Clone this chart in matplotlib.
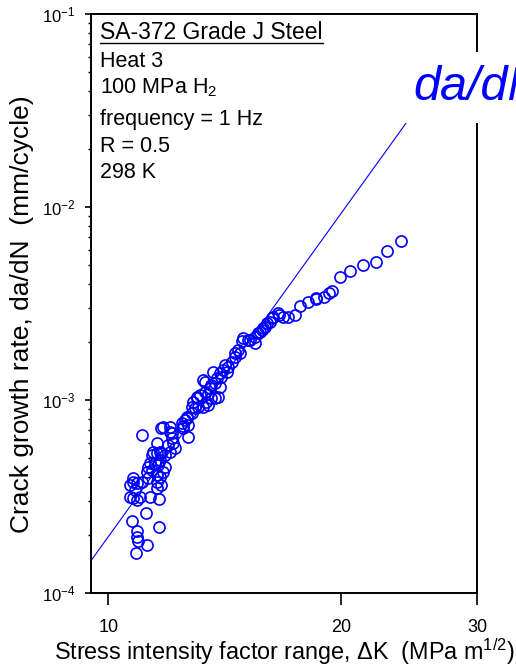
import matplotlib
matplotlib.use('Agg')
import matplotlib.pyplot as plt
from matplotlib.ticker import FixedLocator, FixedFormatter, NullLocator, LogLocator, NullFormatter
from matplotlib.lines import Line2D

plt.rcParams['font.family'] = ['Liberation Sans', 'DejaVu Sans']
plt.rcParams['mathtext.fontset'] = 'custom'
plt.rcParams['mathtext.rm'] = 'Liberation Sans'
plt.rcParams['mathtext.it'] = 'Liberation Sans:italic'
plt.rcParams['mathtext.bf'] = 'Liberation Sans:bold'
plt.rcParams['mathtext.default'] = 'regular'
plt.rcParams['axes.unicode_minus'] = False

# ---- data ----
delta_k = [23.92, 22.92, 22.18, 21.33, 20.54, 19.96, 19.47, 19.01, 18.55, 18.14,
           17.70, 17.45, 17.10, 16.84, 16.59, 16.35, 16.19, 15.95, 15.71, 15.48,
           15.48, 15.17, 14.95, 14.88, 14.80, 14.73, 14.58, 14.58, 14.44, 14.29,
           14.15, 14.08, 13.94, 14.01, 13.67, 13.81, 13.74, 13.94, 13.60, 13.33,
           13.27, 13.54, 13.47, 13.87, 13.74, 13.60, 13.33, 13.14, 13.01, 12.88,
           13.40, 13.47, 13.27, 13.07, 12.95, 12.82, 12.82, 12.63, 12.57, 12.44,
           12.69, 12.50, 12.50, 12.69, 12.02, 11.78, 11.72, 12.02, 12.08, 12.08,
           12.14, 11.96, 12.20, 12.02, 11.84, 11.72, 11.66, 11.55, 11.55, 11.43,
           11.38, 11.05, 11.66, 11.49, 11.32, 11.60, 11.84, 11.38, 11.27, 11.21,
           11.78, 11.55, 11.66, 11.55, 11.72, 11.55, 11.27, 11.05, 10.77, 10.88,
           10.77, 10.67, 10.83, 10.67, 10.77, 10.88, 10.99, 11.32, 11.63, 11.18,
           10.72, 11.63, 10.91, 10.88, 10.93, 11.21, 10.86, 16.27, 16.03, 15.79,
           14.23, 13.01, 12.63, 15.87, 15.63, 15.25, 16.64, 19.32, 18.57]
dadn = [6.69e-3, 5.92e-3, 5.17e-3, 5.01e-3, 4.68e-3, 4.32e-3, 3.68e-3, 3.40e-3, 3.34e-3, 3.23e-3,
        3.07e-3, 2.76e-3, 2.68e-3, 2.70e-3, 2.81e-3, 2.70e-3, 2.55e-3, 2.40e-3, 2.26e-3, 2.13e-3,
        1.97e-3, 2.05e-3, 2.09e-3, 2.01e-3, 1.75e-3, 1.82e-3, 1.68e-3, 1.75e-3, 1.58e-3, 1.49e-3,
        1.52e-3, 1.43e-3, 1.38e-3, 1.32e-3, 1.40e-3, 1.30e-3, 1.22e-3, 1.17e-3, 1.20e-3, 1.24e-3,
        1.27e-3, 1.15e-3, 1.08e-3, 1.04e-3, 1.02e-3, 1.02e-3, 1.10e-3, 1.06e-3, 1.02e-3, 9.80e-4,
        9.80e-4, 9.42e-4, 9.23e-4, 9.23e-4, 9.06e-4, 9.23e-4, 8.53e-4, 8.19e-4, 7.88e-4, 7.57e-4,
        7.42e-4, 7.30e-4, 7.13e-4, 6.45e-4, 7.27e-4, 7.27e-4, 7.13e-4, 6.85e-4, 6.72e-4, 6.33e-4,
        5.96e-4, 5.85e-4, 5.62e-4, 5.40e-4, 5.19e-4, 5.29e-4, 5.40e-4, 5.29e-4, 5.96e-4, 5.40e-4,
        5.19e-4, 6.58e-4, 4.89e-4, 4.70e-4, 4.70e-4, 4.60e-4, 4.51e-4, 4.34e-4, 4.51e-4, 4.25e-4,
        4.25e-4, 4.09e-4, 4.00e-4, 3.77e-4, 3.63e-4, 3.49e-4, 3.93e-4, 3.77e-4, 3.77e-4, 3.70e-4,
        3.93e-4, 3.63e-4, 3.42e-4, 3.15e-4, 3.11e-4, 3.03e-4, 3.15e-4, 3.15e-4, 3.06e-4, 2.61e-4,
        2.37e-4, 2.19e-4, 2.10e-4, 1.96e-4, 1.86e-4, 1.77e-4, 1.61e-4, 2.65e-3, 2.50e-3, 2.31e-3,
        1.40e-3, 1.04e-3, 8.04e-4, 2.35e-3, 2.22e-3, 2.05e-3, 2.76e-3, 3.57e-3, 3.39e-3]

fit_dk = [9.5, 24.35]
fit_dadn = [1.47e-4, 2.76e-2]

x_ticks = [10, 20, 30]
x_tick_labels = ['10', '20', '30']

title_line = 'SA-372 Grade J Steel'
info_lines = ['Heat 3', '100 MPa H$_2$', 'frequency = 1 Hz', 'R = 0.5', '298 K']
info_baselines_px = [66.7, 93.3, 125.3, 151.7, 177.7]

W, H = 516, 668
fig = plt.figure(figsize=(W / 100, H / 100), dpi=100)
ax = fig.add_axes([91 / W, 1 - 593 / H, 386 / W, 579 / H])
ax.set_xscale('log')
ax.set_yscale('log')

ax.plot(fit_dk, fit_dadn, color='blue', lw=0.8, zorder=2)
ax.plot(delta_k, dadn, linestyle='none', marker='o', mfc='none', mec='blue',
        ms=8, mew=1.2, zorder=3)

ax.set_xlim(9.5, 30)
ax.set_ylim(1e-4, 1e-1)

ax.xaxis.set_major_locator(FixedLocator(x_ticks))
ax.xaxis.set_major_formatter(FixedFormatter(x_tick_labels))
ax.xaxis.set_minor_locator(NullLocator())
ax.yaxis.set_major_locator(LogLocator(base=10, numticks=10))
ax.yaxis.set_minor_locator(LogLocator(base=10, subs=range(2, 10), numticks=10))
ax.yaxis.set_minor_formatter(NullFormatter())

ax.tick_params(axis='x', which='major', direction='out', length=8.5, width=1.2,
               pad=10, labelsize=13, top=False)
ax.tick_params(axis='y', which='major', direction='out', length=4.3, width=1.2,
               pad=7, labelsize=12, right=False)
ax.tick_params(axis='y', which='minor', direction='out', length=2.4, width=1.0, right=False)
for s in ax.spines.values():
    s.set_linewidth(1.4)

ax.set_xlabel('Stress intensity factor range, \u0394K  (MPa m$^{1/2}$)', fontsize=16.8)
ax.set_ylabel('Crack growth rate, da/dN  (mm/cycle)', fontsize=19)
ax.yaxis.set_label_coords((34 - 91) / 386, 0.5 - 11 / 579)
ax.xaxis.set_label_coords(0.5, -(660 - 593) / 579)
ax.xaxis.label.set_verticalalignment('baseline')

t_title = fig.text(100 / W, 1 - 39.3 / H, title_line, fontsize=16.5, va='baseline', ha='left')
for txt, b in zip(info_lines, info_baselines_px):
    fig.text(100 / W, 1 - b / H, txt, fontsize=15.5, va='baseline', ha='left')

fig.text(413 / W, 1 - 100 / H, 'da/dN', color='blue', style='italic', fontsize=35,
         va='baseline', ha='left',
         bbox=dict(facecolor='white', edgecolor='none', pad=9))

fig.canvas.draw()
bb = t_title.get_window_extent()
yline = H - 42.5
fig.add_artist(Line2D([bb.x0, bb.x1], [yline, yline], transform=None,
                      color='black', lw=1.0))

fig.savefig('out.png', dpi=100)
